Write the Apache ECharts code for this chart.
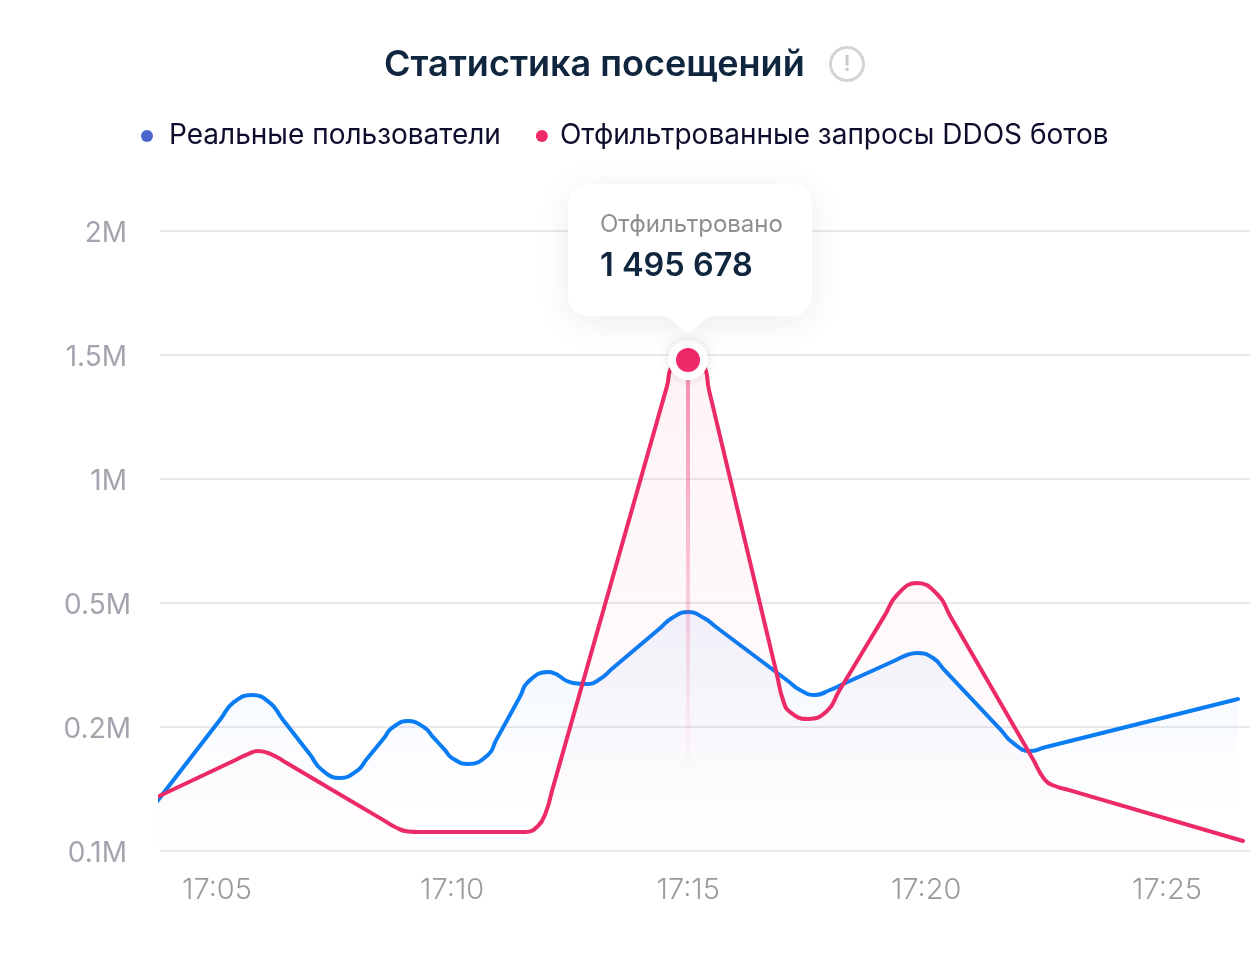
<!DOCTYPE html>
<html><head><meta charset="utf-8">
<style>html,body{margin:0;padding:0;background:#fff}#c{width:1250px;height:956px}</style>
<script src="https://cdn.jsdelivr.net/npm/echarts@6/dist/echarts.min.js"></script>
</head><body><div id="c"></div>
<script>
const titleText = 'Статистика посещений';
const seriesNames = ['Реальные пользователи', 'Отфильтрованные запросы DDOS ботов'];
const yTickValues = [0.1, 0.2, 0.5, 1, 1.5, 2];
const yTickLabels = ['0.1M', '0.2M', '0.5M', '1M', '1.5M', '2M'];
const xTickValues = [5, 9.95, 14.92, 19.93, 25];
const xTickLabels = ['17:05', '17:10', '17:15', '17:20', '17:25'];
const tipLabel = 'Отфильтровано';
const tipValue = '1 495 678';
// minutes after 17:00, and millions of requests
const realX = [3.695,5.084,5.337,5.737,6.116,6.368,6.958,7.211,7.589,7.968,8.137,8.516,8.684,9.021,9.379,9.526,9.8,9.947,10.284,10.705,10.874,11.379,11.547,11.968,12.495,12.789,13.063,13.316,14.326,14.579,14.916,15.253,15.505,17.021,17.274,17.589,17.905,18.158,19.274,19.526,19.737,20.074,20.326,21.505,21.758,22.116,22.432,26.495];
const realY = [.1379,.2206,.2582,.2774,.2582,.2206,.1778,.1653,.1589,.1653,.1734,.1911,.1992,.2145,.1992,.1929,.1813,.175,.1702,.1774,.1892,.2735,.3089,.3331,.3065,.304,.3161,.3408,.439,.4637,.4782,.4637,.4419,.3113,.2895,.2774,.2895,.3029,.3609,.3742,.379,.3669,.3361,.1974,.1871,.1806,.1837,.2677];
const botX = [3.695,5.4,5.653,5.863,6.179,6.432,8.495,8.747,9.021,9.274,9.526,11.232,11.484,11.758,11.926,12.053,14.474,14.6,14.916,15.232,15.358,16.789,16.916,17.063,17.442,17.842,18.095,19.063,19.316,19.737,20.179,20.432,22.179,22.432,22.642,22.958,26.6];
const botY = [.1427,.1736,.1782,.1806,.1774,.1717,.1251,.1194,.1157,.1153,.1153,.1153,.1153,.1202,.1315,.1485,1.3745,1.4597,1.48,1.4597,1.3585,.326,.2654,.2363,.2195,.2387,.287,.4712,.5323,.5806,.5323,.4694,.174,.1573,.1524,.1489,.1081];
const peakX = 14.916, peakY = 1.48, dropY = 0.1653;

// the axis is evenly spaced between its uneven ticks
function pos(v){
  for(let i=0;i<yTickValues.length-1;i++){
    if(v<=yTickValues[i+1]) return i+(v-yTickValues[i])/(yTickValues[i+1]-yTickValues[i]);
  }
  return yTickValues.length-1;
}
const pairs=(xs,ys)=>xs.map((x,i)=>[x,pos(ys[i])]);
const grad=(stops)=>new echarts.graphic.LinearGradient(0,0,0,1,stops.map(([offset,color])=>({offset,color})));
const font='Inter, "Noto Sans", sans-serif';
const chart=echarts.init(document.getElementById('c'),null,{renderer:'canvas'});
const bubbleShadow={shadowBlur:34,shadowColor:'rgba(20,30,60,0.08)',shadowOffsetY:6};
const tail=[[655,315],[664,316],[672,320],[680,327],[685,332],[688,333],[691,332],[696,327],[704,320],[712,316],[721,315]];
const yRich={fontFamily:font,fontSize:28,fontWeight:400,color:'#a4a4ae'};
chart.setOption({
  animation:false,
  backgroundColor:'#fff',
  title:{text:titleText,left:379,top:42,textStyle:{fontFamily:font,fontSize:36,fontWeight:600,color:'#10263f'}},
  legend:{left:141,top:122,padding:0,itemWidth:12,itemHeight:12,itemGap:35,icon:'circle',
    data:[{name:seriesNames[0],textStyle:{padding:[0,0,0,11]}},{name:seriesNames[1],textStyle:{padding:[0,0,0,7]}}],
    textStyle:{fontFamily:font,fontSize:28,color:'#0c0c2c'}},
  grid:{left:160,right:0,top:231,bottom:105},
  xAxis:{type:'value',min:3.8,max:26.747,splitLine:{show:false},axisTick:{show:false},
    axisLine:{show:false},
    axisLabel:{customValues:xTickValues,margin:25,fontFamily:font,fontSize:29,fontWeight:300,color:'#9b9b9f',
      formatter:v=>xTickLabels[xTickValues.indexOf(v)]}},
  yAxis:{type:'value',min:0,max:5,interval:1,axisLine:{show:false},axisTick:{show:false},
    splitLine:{lineStyle:{color:'#e9e9ec',width:2}},
    axisLabel:{margin:29,
      formatter:(v)=>(v===1||v===2?'{b|':'{a|')+yTickLabels[v]+'}',
      rich:{a:{...yRich,padding:[5,4,0,0]},b:{...yRich,padding:[5,0,0,0]}}}},
  series:[
    {name:seriesNames[0],type:'line',clip:false,smooth:0.5,showSymbol:false,symbol:'circle',z:3,
      itemStyle:{color:'#4866cb'},lineStyle:{color:'#0a7df5',width:4,cap:'round'},
      areaStyle:{color:grad([[0,'rgba(20,90,220,0.085)'],[0.85,'rgba(20,125,245,0)']])},
      data:pairs(realX,realY)},
    {name:seriesNames[1],type:'line',clip:false,smooth:0.5,showSymbol:false,symbol:'circle',z:4,
      itemStyle:{color:'#ec2a65'},lineStyle:{color:'#ec2a65',width:4,cap:'round'},
      areaStyle:{color:grad([[0,'rgba(236,42,101,0.08)'],[1,'rgba(236,42,101,0.012)']])},
      data:pairs(botX,botY),
      markLine:{silent:true,symbol:'none',label:{show:false},
        lineStyle:{type:'solid',width:4,color:grad([[0,'rgba(236,42,101,0.5)'],[1,'rgba(236,42,101,0)']])},
        data:[[{coord:[peakX,pos(peakY)]},{coord:[peakX,pos(dropY)]}]]}},
    {name:'ring',type:'scatter',clip:false,z:5,symbol:'circle',symbolSize:40,
      itemStyle:{color:'#fff',shadowBlur:12,shadowColor:'rgba(0,0,0,0.12)',opacity:1},
      data:[[peakX,pos(peakY)]]},
    {name:'dot',type:'scatter',clip:false,z:6,symbol:'circle',symbolSize:24,
      itemStyle:{color:'#ec2a65',opacity:1},
      data:[[peakX,pos(peakY)]]}
  ],
  graphic:[
    {type:'circle',z:100,shape:{cx:847,cy:64,r:16.5},style:{fill:'#fff',stroke:'#d4d4d4',lineWidth:3}},
    {type:'text',z:101,x:847,y:64,style:{text:'!',fill:'#c9c9c9',font:'600 22px '+font,textAlign:'center',textVerticalAlign:'middle'}},
    {type:'polygon',z:100,shape:{points:tail},style:{fill:'#fff',...bubbleShadow}},
    {type:'rect',z:100,shape:{x:568,y:184,width:244,height:132,r:20},style:{fill:'#fff',...bubbleShadow}},
    {type:'polygon',z:100,shape:{points:tail},style:{fill:'#fff'}},
    {type:'text',z:101,x:600,y:225,style:{text:tipLabel,fill:'#8e8e93',font:'400 24px '+font,textVerticalAlign:'middle'}},
    {type:'text',z:101,x:600,y:266,style:{text:tipValue,fill:'#10263f',font:'600 32.5px '+font,textVerticalAlign:'middle'}}
  ]
});
</script></body></html>
